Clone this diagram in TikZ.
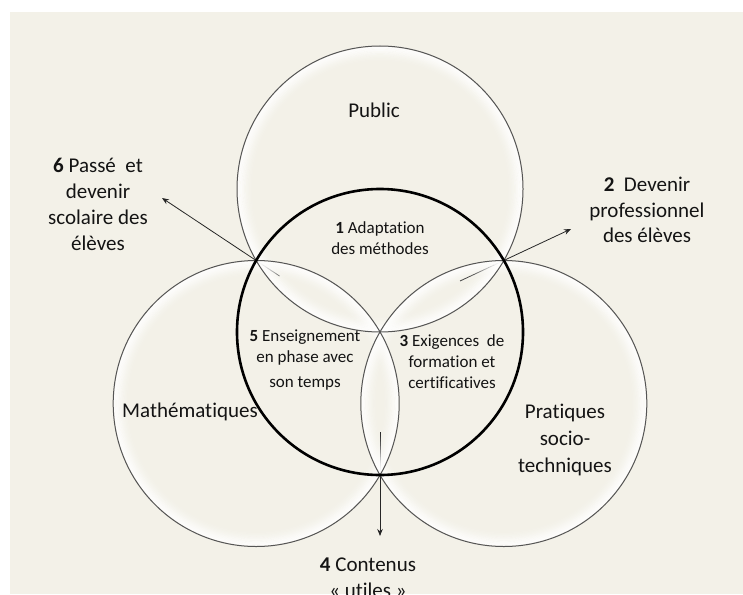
\documentclass[tikz,border=0pt]{standalone}
\usepackage{fontspec}
\setmainfont{Carlito}[Ligatures=NoCommon]
\usetikzlibrary{arrows.meta}
\definecolor{bg}{RGB}{243,241,232}
\definecolor{ringc}{RGB}{85,85,85}
\definecolor{txt}{RGB}{20,20,20}
\begin{document}
\begin{tikzpicture}[x=1pt,y=-1pt,
  outerlbl/.style={font=\fontsize{21}{26}\selectfont, align=center, inner sep=0pt, text=txt},
  innerlbl/.style={font=\fontsize{17}{21}\selectfont, align=center, inner sep=0pt, text=txt},
  conn/.style={draw=black!85, line width=0.8pt, -{Stealth[length=7pt,width=5.5pt]}},
  setcircle/.style={draw=ringc, line width=1pt},
  boldcircle/.style={draw=black, line width=2.6pt},
  glowring/.style={draw=white, line width=1.4pt}
]
\useasboundingbox (0,0) rectangle (743,594);
\fill[white] (0,0) rectangle (743,594);
\fill[bg] (10,12) rectangle (743,594);

% centres
\coordinate (G) at (380,332);
\coordinate (cpub) at (380,189);
\coordinate (cmath) at (256.2,403.5);
\coordinate (cprat) at (503.8,403.5);
% outer intersections
\coordinate (pm) at (256.2,260.5);
\coordinate (pp) at (503.8,260.5);
\coordinate (mp) at (380,475);
% arrow ends
\coordinate (s6) at (279.5,276);
\coordinate (t6) at (162,198);
\coordinate (s2) at (460,281);
\coordinate (t2) at (571,229);
\coordinate (s4) at (380,432);
\coordinate (t4) at (380,536);

\draw[conn] (s6) -- (t6);
\draw[conn] (s2) -- (t2);
\draw[conn] (s4) -- (t4);

% glow
\foreach \c in {cpub,cmath,cprat}{
  \foreach \d/\op in {1.5/0.85, 2.8/0.78, 4.1/0.7, 5.4/0.6, 6.7/0.5, 8.0/0.4, 9.3/0.3, 10.6/0.22, 11.9/0.15, 13.2/0.09, 14.5/0.05}{
    \draw[glowring, opacity=\op] (\c) circle[radius=143-\d];
  }
}
% outlines
\draw[setcircle] (cpub) circle[radius=143];
\draw[setcircle] (cmath) circle[radius=143];
\draw[setcircle] (cprat) circle[radius=143];
\draw[boldcircle] (G) circle[radius=143];

% labels
\node[outerlbl] (public) at (374,110) {Public};
\node[outerlbl] (maths) at (190,412) {Mathématiques};
\node[outerlbl, font=\fontsize{21}{27}\selectfont] (prat) at (565,440) {Pratiques\\socio-\\techniques};
\node[outerlbl] (l6) at (98,204) {\textbf{6} Passé\ \ et\\devenir\\scolaire des\\élèves};
\node[outerlbl, font=\fontsize{21}{25.5}\selectfont] (l2) at (647,210) {\textbf{2}\ \ Devenir\\professionnel\\des élèves};
\node[outerlbl] (l4) at (368,578) {\textbf{4} Contenus\\« utiles »};
\node[innerlbl] (l1) at (380,238) {\textbf{1} Adaptation\\des méthodes};
\node[innerlbl] (l5) at (305,360) {\textbf{5} Enseignement\\en phase avec\\[4pt]son temps};
\node[innerlbl] (l3) at (452,362) {\textbf{3} Exigences\ \ de\\formation et\\certificatives};
\end{tikzpicture}
\end{document}
